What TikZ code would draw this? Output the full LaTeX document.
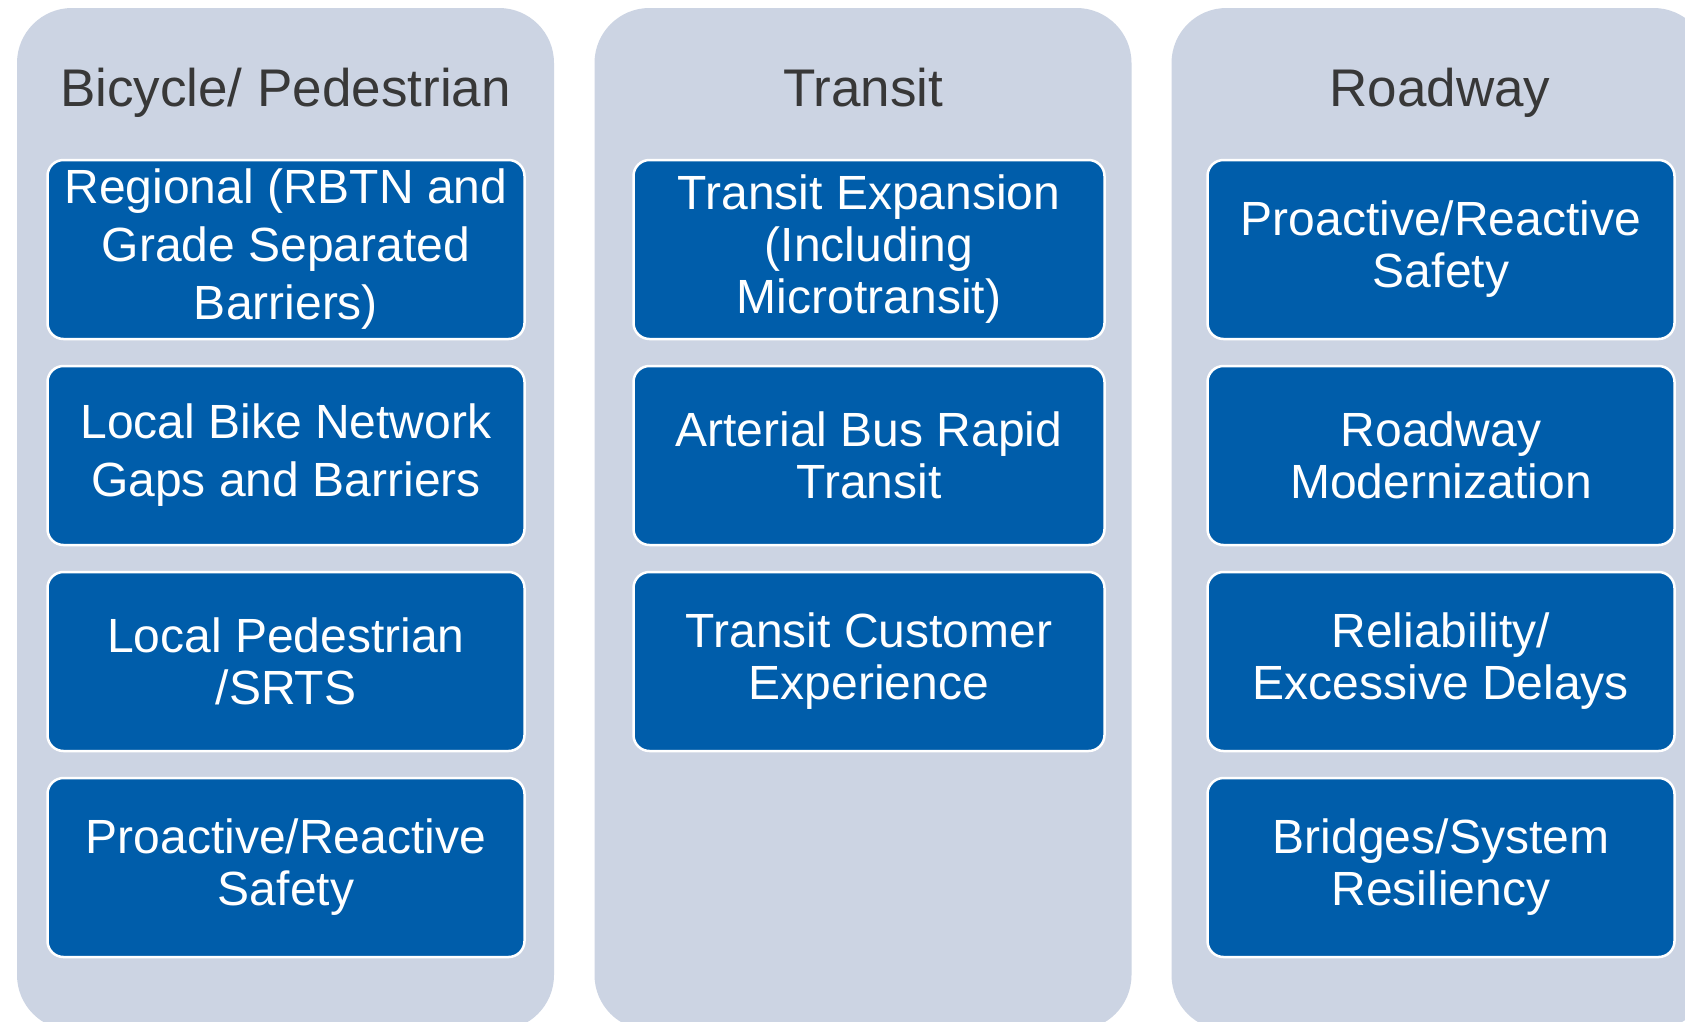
\documentclass[tikz,border=0pt]{standalone}
\usepackage{fontspec}
\setmainfont{Liberation Sans}
\definecolor{panelc}{HTML}{CCD4E3}
\definecolor{boxc}{HTML}{005DAA}
\definecolor{titlec}{HTML}{383838}
\begin{document}
\begin{tikzpicture}[x=1pt,y=-1pt,
  panel/.style={fill=panelc, rounded corners=55pt, inner sep=0pt, minimum width=537pt, minimum height=1022pt},
  paneltitle/.style={anchor=base, inner sep=0pt, text=titlec, font=\fontsize{53}{60}\selectfont},
  bluebox/.style={fill=boxc, draw=white, line width=2.5pt, rounded corners=16pt, inner sep=0pt,
    minimum height=179pt, align=center, text=white, font=\fontsize{48}{52}\selectfont},
  wide/.style={font=\fontsize{48}{58}\selectfont}
]
\clip (0,0) rectangle (1685,1021);
\fill[white] (0,0) rectangle (1685,1021);
% panels
\node[panel] (p1) at (285.5,519) {};
\node[panel] (p2) at (863,519) {};
\node[panel] (p3) at (1440,519) {};
% titles
\node[paneltitle] (t1) at (285.5,106) {Bicycle/ Pedestrian};
\node[paneltitle] (t2) at (863,106) {Transit};
\node[paneltitle] (t3) at (1440,106) {Roadway};
% column 1
\node[bluebox, wide, minimum width=477pt] (a1) at (286,249.5) {Regional (RBTN and\\Grade Separated\\Barriers)};
\node[bluebox, wide, minimum width=477pt] (a2) at (286,455.5) {Local Bike Network\\Gaps and Barriers};
\node[bluebox, minimum width=477pt] (a3) at (286,661.5) {Local Pedestrian\\/SRTS};
\node[bluebox, minimum width=477pt] (a4) at (286,867.5) {Proactive/Reactive\\Safety};
% column 2
\node[bluebox, minimum width=471pt] (b1) at (869,249.5) {Transit Expansion\\(Including\\Microtransit)};
\node[bluebox, minimum width=471pt] (b2) at (869,455.5) {Arterial Bus Rapid\\Transit};
\node[bluebox, minimum width=471pt] (b3) at (869,661.5) {Transit Customer\\Experience};
% column 3
\node[bluebox, minimum width=467pt] (c1) at (1441,249.5) {Proactive/Reactive\\Safety};
\node[bluebox, minimum width=467pt] (c2) at (1441,455.5) {Roadway\\Modernization};
\node[bluebox, minimum width=467pt] (c3) at (1441,661.5) {Reliability/\\Excessive Delays};
\node[bluebox, minimum width=467pt] (c4) at (1441,867.5) {Bridges/System\\Resiliency};
\end{tikzpicture}
\end{document}
